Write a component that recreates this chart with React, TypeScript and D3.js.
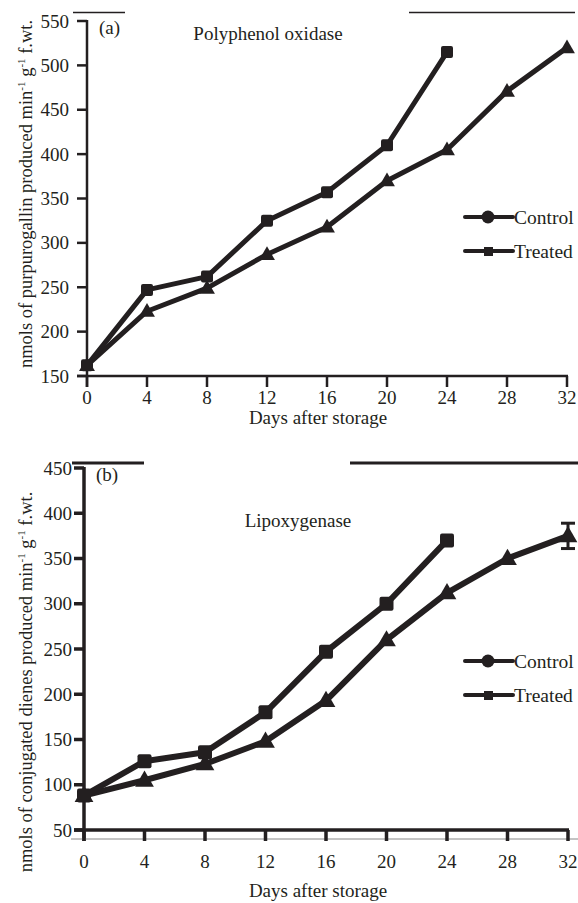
import * as d3 from 'd3'
import React from 'react'

// panel (a) polyphenol oxidase
const daysA = [0, 4, 8, 12, 16, 20, 24, 28, 32]
const ppoControl = [162, 247, 262, 325, 357, 410, 515]
const ppoTreated = [162, 223, 249, 287, 318, 370, 405, 471, 520]
const ppoTicks = [150, 200, 250, 300, 350, 400, 450, 500, 550]

// panel (b) lipoxygenase
const loxControl = [88, 126, 136, 180, 247, 300, 370]
const loxTreated = [88, 105, 123, 148, 193, 260, 312, 350, 375]
const loxTreatedErr = [0, 0, 0, 0, 0, 0, 0, 0, 14]
const loxTicks = [50, 100, 150, 200, 250, 300, 350, 400, 450]

const dayTicks = [0, 4, 8, 12, 16, 20, 24, 28, 32]
const seriesNames = ['Control', 'Treated']

const ink = '#231f20'
const font = '"Liberation Serif", "Times New Roman", serif'

const Sup = ({ children }: { children: string }) => (
  <tspan fontSize="11" dy="-7">{children}</tspan>
)
const Down = () => <tspan dy="7"> </tspan>

function Marker({ kind, x, y, s }: { kind: string; x: number; y: number; s: number }) {
  if (kind === 'Control') {
    return <rect x={x - s / 2} y={y - s / 2} width={s} height={s} rx={2} fill={ink} />
  }
  const path = d3.symbol(d3.symbolTriangle, s * s * 0.9)()
  return <path d={path as string} transform={`translate(${x},${y + 1})`} fill={ink} />
}

function Panel(props: {
  x0: number
  x1: number
  yTop: number
  yBot: number
  domain: [number, number]
  ticks: number[]
  control: number[]
  treated: number[]
  err?: number[]
  axisW: number
  lineW: number
  mk: number
  label: string
  title: string
  titleX: number
  titleY: number
  legendY: number
  ylabel: React.ReactNode
  ylabelY: number
  tickLabelRight: number
  xTickLen: number
  xLabelY: number
  tickLabelY: number
  topLines: [number, number][]
  topY: number
  topW: number
  thinBase?: boolean
}) {
  const x = d3.scaleLinear().domain([0, 32]).range([props.x0, props.x1])
  const y = d3.scaleLinear().domain(props.domain).range([props.yBot, props.yTop])
  const line = d3
    .line<number>()
    .x((_, i) => x(daysA[i]))
    .y(d => y(d))
  const base = props.yBot
  return (
    <g>
      {props.topLines.map(([a, b], i) => (
        <line key={i} x1={a} x2={b} y1={props.topY} y2={props.topY} stroke={ink} strokeWidth={props.topW} />
      ))}
      {/* y axis */}
      <line x1={props.x0} x2={props.x0} y1={props.yTop - 1} y2={base + props.xTickLen} stroke={ink} strokeWidth={props.axisW} />
      {props.ticks.map(t => (
        <g key={t}>
          <line x1={props.x0 - 10} x2={props.x0} y1={y(t)} y2={y(t)} stroke={ink} strokeWidth={props.axisW} />
          <text x={props.tickLabelRight} y={y(t) + 6.5} textAnchor="end" fontSize="19" fill={ink}>
            {t}
          </text>
        </g>
      ))}
      {/* x axis */}
      <line x1={props.x0 - 10} x2={props.x1 + 1} y1={base} y2={base} stroke={ink} strokeWidth={props.axisW} />
      {props.thinBase && (
        <line x1={71} x2={578} y1={base + 9} y2={base + 9} stroke="#888" strokeWidth={1} />
      )}
      {dayTicks.map(t => (
        <g key={t}>
          <line x1={x(t)} x2={x(t)} y1={base} y2={base + props.xTickLen} stroke={ink} strokeWidth={props.axisW} />
          <text x={x(t)} y={props.tickLabelY} textAnchor="middle" fontSize="19" fill={ink}>
            {t}
          </text>
        </g>
      ))}
      <text x={318} y={props.xLabelY} textAnchor="middle" fontSize="19" fill={ink}>
        Days after storage
      </text>
      <text transform={`translate(32,${props.ylabelY}) rotate(-90)`} textAnchor="middle" fontSize="18.5" fill={ink}>
        {props.ylabel}
      </text>
      <text x={props.x0 + 12} y={props.yTop + 13} fontSize="19" fill={ink}>
        {props.label}
      </text>
      <text x={props.titleX} y={props.titleY} textAnchor="middle" fontSize="19" fill={ink}>
        {props.title}
      </text>
      {/* series */}
      <path d={line(props.treated) as string} fill="none" stroke={ink} strokeWidth={props.lineW} strokeLinejoin="round" />
      <path d={line(props.control) as string} fill="none" stroke={ink} strokeWidth={props.lineW} strokeLinejoin="round" />
      {props.err &&
        props.err.map((e, i) =>
          e > 0 ? (
            <g key={i} stroke={ink} strokeWidth={3}>
              <line x1={x(daysA[i])} x2={x(daysA[i])} y1={y(props.treated[i] - e)} y2={y(props.treated[i] + e)} />
              <line x1={x(daysA[i]) - 7} x2={x(daysA[i]) + 7} y1={y(props.treated[i] - e)} y2={y(props.treated[i] - e)} />
              <line x1={x(daysA[i]) - 7} x2={x(daysA[i]) + 7} y1={y(props.treated[i] + e)} y2={y(props.treated[i] + e)} />
            </g>
          ) : null
        )}
      {props.treated.map((v, i) => (
        <Marker key={'t' + i} kind="Treated" x={x(daysA[i])} y={y(v)} s={props.mk - 1} />
      ))}
      {props.control.map((v, i) => (
        <Marker key={'c' + i} kind="Control" x={x(daysA[i])} y={y(v)} s={props.mk} />
      ))}
      {/* legend */}
      {seriesNames.map((n, i) => {
        const ly = props.legendY + i * 34
        return (
          <g key={n}>
            <line x1={465} x2={513} y1={ly} y2={ly} stroke={ink} strokeWidth={4} strokeLinecap="round" />
            {n === 'Control' ? (
              <circle cx={488} cy={ly} r={6.5} fill={ink} />
            ) : (
              <rect x={484} y={ly - 4} width={9} height={9} fill={ink} />
            )}
            <text x={514} y={ly + 7} fontSize="19.5" fill={ink}>
              {n}
            </text>
          </g>
        )
      })}
    </g>
  )
}

export default function App() {
  return (
    <svg width={578} height={903} style={{ position: 'absolute', left: 0, top: 0, fontFamily: font }}>
      <rect width={578} height={903} fill="#fff" />
      <Panel
        x0={87}
        x1={567}
        yTop={21}
        yBot={376}
        domain={[150, 550]}
        ticks={ppoTicks}
        control={ppoControl}
        treated={ppoTreated}
        axisW={2.5}
        lineW={5}
        mk={12}
        label="(a)"
        title="Polyphenol oxidase"
        titleX={268}
        titleY={40}
        legendY={217}
        ylabel={
          <>
            nmols of purpurogallin produced min<Sup>-1</Sup>
            <Down />g<Sup>-1</Sup>
            <Down />f.wt.
          </>
        }
        ylabelY={194}
        tickLabelRight={69}
        xTickLen={11}
        tickLabelY={404}
        xLabelY={424}
        topLines={[
          [73, 125],
          [409, 575]
        ]}
        topY={12.5}
        topW={1.5}
      />
      <Panel
        x0={84}
        x1={568}
        yTop={468}
        yBot={830}
        domain={[50, 450]}
        ticks={loxTicks}
        control={loxControl}
        treated={loxTreated}
        err={loxTreatedErr}
        axisW={3.5}
        lineW={6}
        mk={14}
        label="(b)"
        title="Lipoxygenase"
        titleX={298}
        titleY={527}
        legendY={661}
        ylabel={
          <>
            nmols of conjugated dienes produced min<Sup>-1</Sup>
            <Down />g<Sup>-1</Sup>
            <Down />f.wt.
          </>
        }
        ylabelY={682}
        tickLabelRight={72}
        xTickLen={11}
        tickLabelY={868}
        xLabelY={897}
        topLines={[
          [72, 144],
          [350, 578]
        ]}
        topY={463}
        topW={3}
        thinBase
      />
    </svg>
  )
}
